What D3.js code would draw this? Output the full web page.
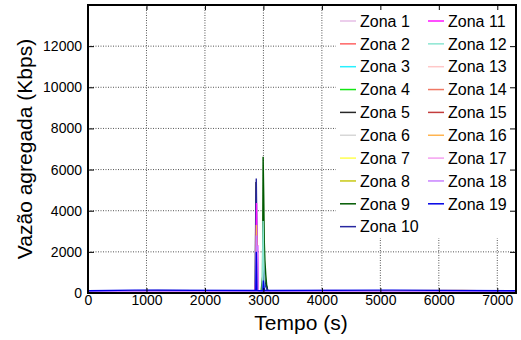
<!DOCTYPE html>
<html>
<head>
<meta charset="utf-8">
<script src="https://cdn.jsdelivr.net/npm/d3@7"></script>
<style>
body{margin:0;background:#fff;}
text{font-family:"Liberation Sans",Arial,sans-serif;}
</style>
</head>
<body>
<div id="chart"></div>
<script>
// dados: [tempo (s), vazao (Kbps)]
var zonas = ["Zona 1","Zona 2","Zona 3","Zona 4","Zona 5","Zona 6","Zona 7","Zona 8","Zona 9","Zona 10",
             "Zona 11","Zona 12","Zona 13","Zona 14","Zona 15","Zona 16","Zona 17","Zona 18","Zona 19"];
var cores = ["#e6bee6","#ff6464","#28f0ff","#14e614","#282828","#d7d7d7","#ffff50","#c8c814","#005a00","#2828a0",
             "#ff14ff","#8ce6d2","#ffc8c8","#f07864","#c33c3c","#ffb450","#f5a0f0","#c882ff","#0000e6"];

var zona1  = [[0,60],[900,110],[1900,70],[2868,80],[2880,900],[2895,80],[4100,120],[5600,70],[7320,90]];
var zona2  = [[0,80],[1300,50],[2868,60],[2880,600],[2895,60],[3600,110],[6200,60],[7320,80]];
var zona3  = [[0,40],[1100,90],[2980,70],[2990,500],[3010,60],[5000,80],[7320,40]];
var zona4  = [[0,90],[2000,60],[2985,70],[2995,700],[3010,80],[4700,110],[7320,60]];
var zona5  = [[0,40],[2860,60],[2872,5400],[2884,300],[2894,70],[2990,80],[3000,2200],[3010,1200],[3030,500],[3060,300],[3080,70],[7320,40]];
var zona6  = [[0,60],[1600,100],[2985,70],[2995,400],[3010,60],[5900,90],[7320,60]];
var zona7  = [[0,70],[2500,40],[2980,60],[2990,300],[3005,70],[6700,100],[7320,60]];
var zona8  = [[0,40],[1400,80],[2985,60],[2995,800],[3010,60],[5300,90],[7320,40]];
var zona9  = [[0,30],[2960,40],[2985,800],[2995,6620],[3005,4800],[3015,2500],[3025,1600],[3040,900],[3055,400],[3070,100],[7320,40]];
var zona10 = [[0,90],[1200,120],[2400,100],[2862,110],[2870,3800],[2878,5570],[2888,2900],[2898,110],[2990,100],[3000,1300],[3010,900],[3020,500],[3040,300],[3060,200],[3075,110],[4800,100],[7320,90]];
var zona11 = [[0,40],[2860,60],[2872,1000],[2882,4370],[2892,2000],[2902,2330],[2912,70],[7320,40]];
var zona12 = [[0,60],[2980,70],[2995,3500],[3005,1500],[3020,70],[7320,60]];
var zona13 = [[0,40],[2868,40],[2880,300],[2892,60],[3200,90],[7320,40]];
var zona14 = [[0,80],[2866,70],[2878,1500],[2890,70],[7320,80]];
var zona15 = [[0,60],[2868,60],[2880,800],[2892,60],[7320,60]];
var zona16 = [[0,90],[2870,100],[2880,3300],[2892,1200],[2902,90],[6400,130],[7320,80]];
var zona17 = [[0,60],[2868,60],[2880,1200],[2895,70],[7320,60]];
var zona18 = [[0,80],[2870,90],[2880,2800],[2890,1500],[2900,2300],[2910,80],[7320,80]];
var zona19 = [[0,110],[800,140],[2870,120],[2878,2000],[2890,120],[2990,110],[3000,600],[3015,120],[5200,140],[7320,110]];

var series = [zona1,zona2,zona3,zona4,zona5,zona6,zona7,zona8,zona9,zona10,
              zona11,zona12,zona13,zona14,zona15,zona16,zona17,zona18,zona19];

var xTicks = [0,1000,2000,3000,4000,5000,6000,7000];
var yTicks = [0,2000,4000,6000,8000,10000,12000];

var W = 521, H = 340;
var mLeft = 88, mRight = 516, mTop = 5, mBottom = 293;

var svg = d3.select("#chart").append("svg")
            .attr("width", W).attr("height", H);

var x = d3.scaleLinear().domain([0,7320]).range([mLeft,mRight]);
var y = d3.scaleLinear().domain([0,14000]).range([mBottom,mTop]);

// grade pontilhada
var grid = svg.append("g");
grid.selectAll("line.gx")
    .data(xTicks.filter(d=>d>0))
    .enter().append("line")
    .attr("x1", d=>x(d)).attr("x2", d=>x(d))
    .attr("y1", mTop).attr("y2", mBottom)
    .attr("stroke", "#555").attr("stroke-width", 1)
    .attr("stroke-dasharray", "1,1.5");
grid.selectAll("line.gy")
    .data(yTicks.filter(d=>d>0))
    .enter().append("line")
    .attr("x1", mLeft).attr("x2", mRight)
    .attr("y1", d=>y(d)).attr("y2", d=>y(d))
    .attr("stroke", "#555").attr("stroke-width", 1)
    .attr("stroke-dasharray", "1,1.5");

// linhas
var line = d3.line().x(d=>x(d[0])).y(d=>y(d[1]));
svg.append("g").selectAll("path")
    .data(series)
    .enter().append("path")
    .attr("d", line)
    .attr("fill", "none")
    .attr("stroke", (d,i)=>cores[i])
    .attr("stroke-width", 1.4);

// legenda
var leg = svg.append("g");
leg.append("rect")
    .attr("x", 336).attr("y", mTop+1)
    .attr("width", mRight-336).attr("height", 232)
    .attr("fill", "#fff");

zonas.forEach(function(z,i){
    var col = i < 10 ? 0 : 1;
    var row = i < 10 ? i : i-10;
    var lx = col ? 428 : 340;
    var ly = 21 + row*22.85;
    leg.append("line")
        .attr("x1", lx).attr("x2", lx+16)
        .attr("y1", ly).attr("y2", ly)
        .attr("stroke", cores[i]).attr("stroke-width", 1.5);
    leg.append("text")
        .attr("x", lx+20).attr("y", ly)
        .attr("dy", "0.36em")
        .style("font-size", "16px")
        .text(z);
});

// eixos
var fmt = d3.format("d");
svg.append("g")
    .attr("transform", "translate(0,"+mBottom+")")
    .call(d3.axisBottom(x).tickValues(xTicks).tickFormat(fmt).tickSizeInner(-5).tickSizeOuter(0).tickPadding(2))
    .call(g=>g.select(".domain").remove())
    .selectAll("text").style("font-size","14px").attr("fill","#000");
svg.append("g")
    .attr("transform", "translate(0,"+mTop+")")
    .call(d3.axisTop(x).tickValues(xTicks).tickSizeInner(-5).tickSizeOuter(0).tickFormat(""))
    .call(g=>g.select(".domain").remove());
svg.append("g")
    .attr("transform", "translate("+mLeft+",0)")
    .call(d3.axisLeft(y).tickValues(yTicks).tickFormat(fmt).tickSizeInner(-6).tickSizeOuter(0).tickPadding(6))
    .call(g=>g.select(".domain").remove())
    .selectAll("text").style("font-size","14px").attr("fill","#000");
svg.append("g")
    .attr("transform", "translate("+mRight+",0)")
    .call(d3.axisRight(y).tickValues(yTicks).tickSizeInner(-6).tickSizeOuter(0).tickFormat(""))
    .call(g=>g.select(".domain").remove());

// moldura
svg.append("rect")
    .attr("x", mLeft).attr("y", mTop)
    .attr("width", mRight-mLeft).attr("height", mBottom-mTop)
    .attr("fill", "none").attr("stroke", "#000").attr("stroke-width", 2);

// titulos
svg.append("text")
    .attr("x", (mLeft+mRight)/2 - 1).attr("y", 330)
    .attr("text-anchor", "middle")
    .style("font-size", "21px")
    .text("Tempo (s)");
svg.append("text")
    .attr("transform", "translate(32,149) rotate(-90)")
    .attr("text-anchor", "middle")
    .style("font-size", "21px")
    .text("Vazão agregada (Kbps)");
</script>
</body>
</html>
